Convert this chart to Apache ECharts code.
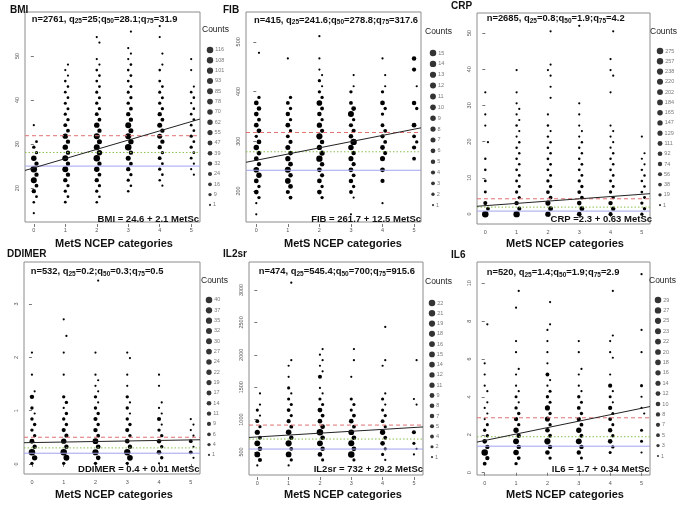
<!DOCTYPE html>
<html><head><meta charset="utf-8">
<script src="https://cdn.jsdelivr.net/npm/echarts@6/dist/echarts.min.js"></script>
<style>html,body{margin:0;padding:0;background:#fff}#c{width:685px;height:513px}</style>
</head><body><div id="c"></div>
<script>
// ---------------- DATA ----------------
const categories = [0, 1, 2, 3, 4, 5];
const xTicks = [0, 1, 2, 3, 4, 5];
const xLabel = 'MetS NCEP categories';

// each series: [bin index, count]; bin value = binStart + index*binStep
// BMI
const bmiBinStart = 14.3, bmiBinStep = 1.25;
const bmiCat0 = [[0,1],[2,2],[3,3],[4,30],[5,17],[6,89],[7,30],[8,116],[9,30],[10,66],[11,8],[12,10],[13,3],[16,1]];
const bmiCat1 = [[2,3],[3,3],[4,8],[5,8],[6,30],[7,30],[8,89],[9,30],[10,89],[11,30],[12,66],[13,30],[14,66],[15,17],[16,17],[17,10],[18,8],[19,5],[20,5],[21,3],[22,3],[23,2],[24,2],[25,1],[26,1],[27,1]];
const bmiCat2 = [[2,2],[3,2],[4,8],[5,8],[6,30],[7,17],[8,66],[9,30],[10,116],[11,66],[12,89],[13,50],[14,89],[15,30],[16,66],[17,17],[18,17],[19,8],[20,8],[21,5],[22,5],[23,3],[24,3],[25,2],[26,2],[27,1],[28,1],[31,1],[32,1]];
const bmiCat3 = [[4,2],[5,2],[6,8],[7,8],[8,30],[9,17],[10,50],[11,30],[12,116],[13,66],[14,89],[15,50],[16,89],[17,30],[18,30],[19,17],[20,10],[21,8],[22,5],[23,5],[24,3],[25,3],[26,2],[27,2],[28,1],[29,1],[30,1],[33,1]];
const bmiCat4 = [[5,1],[6,2],[7,2],[8,8],[9,3],[10,17],[11,8],[12,30],[13,30],[14,50],[15,30],[16,50],[17,17],[18,30],[19,8],[20,8],[21,5],[22,5],[23,3],[24,3],[26,2],[27,1],[29,1],[32,1],[34,1]];
const bmiCat5 = [[7,1],[8,1],[9,1],[10,3],[11,3],[12,8],[13,3],[14,8],[15,3],[16,3],[17,3],[18,2],[19,2],[20,1],[21,2],[22,2],[23,1],[26,1],[28,1]];
const bmiYTicks = [20, 30, 40, 50];
const bmiLegend = [116,108,101,93,85,78,70,62,55,47,39,32,24,16,9,1];
const bmiStats = {n: 2761, q25: 25, q50: 28.1, q75: 31.9};
const bmiFit = {a: 24.6, b: 2.1};

// FIB
const fibBinStart = 153, fibBinStep = 11.2;
const fibCat0 = [[0,1],[2,1],[3,2],[4,6],[5,2],[6,6],[7,9],[8,10],[9,4],[10,6],[11,6],[12,9],[13,6],[14,2],[15,6],[16,6],[17,3],[18,6],[19,5],[20,6],[21,2],[29,1]];
const fibCat1 = [[3,3],[4,4],[5,6],[6,10],[7,5],[8,12],[9,6],[10,8],[11,6],[12,7],[13,4],[14,3],[15,2],[16,6],[17,2],[18,5],[19,2],[20,3],[21,2],[28,1]];
const fibCat2 = [[3,2],[4,6],[5,2],[6,6],[7,4],[8,6],[9,5],[10,14],[11,8],[12,8],[13,5],[14,13],[15,4],[16,8],[17,2],[18,5],[19,3],[20,10],[21,2],[22,2],[23,1],[24,2],[25,1],[26,1],[28,1],[32,1]];
const fibCat3 = [[0,1],[3,1],[4,3],[5,2],[6,5],[7,3],[8,6],[9,4],[10,7],[11,5],[12,9],[13,14],[14,5],[15,4],[16,4],[17,2],[18,12],[19,6],[20,3],[22,2],[23,1],[25,1]];
const fibCat4 = [[2,1],[6,4],[8,6],[10,7],[11,4],[12,6],[13,3],[14,4],[15,3],[16,3],[18,2],[19,2],[20,6],[22,2],[23,1],[25,1],[28,1]];
const fibCat5 = [[10,3],[12,4],[13,2],[14,3],[16,6],[19,2],[20,5],[23,1],[26,4],[28,5]];
const fibYTicks = [200, 300, 400, 500];
const fibLegend = [15,14,13,12,11,10,9,8,7,6,5,4,3,2,1];
const fibStats = {n: 415, q25: 241.6, q50: 278.8, q75: 317.6};
const fibFit = {a: 261.7, b: 12.5};

// CRP
const crpBinStart = -0.05, crpBinStep = 1.53;
const crpCat0 = [[0,275],[1,38],[2,56],[4,10],[6,5],[8,3],[10,2],[13,1],[16,1],[18,1],[22,1]];
const crpCat1 = [[0,257],[1,56],[2,74],[3,19],[4,19],[5,8],[6,8],[7,5],[8,4],[9,3],[10,3],[11,2],[12,2],[13,2],[14,1],[15,1],[16,2],[17,1],[18,1],[19,1],[20,1],[22,1],[26,1]];
const crpCat2 = [[0,147],[1,111],[2,129],[3,38],[4,38],[5,19],[6,19],[7,8],[8,8],[9,5],[10,5],[11,3],[12,3],[13,2],[14,2],[15,1],[16,2],[18,1],[21,1],[23,1],[25,1],[26,1],[27,1],[33,1]];
const crpCat3 = [[0,92],[1,111],[2,92],[3,38],[4,38],[5,19],[6,19],[7,8],[8,5],[9,5],[10,3],[11,2],[12,2],[13,2],[14,1],[15,1],[16,1],[18,1],[20,1],[34,1]];
const crpCat4 = [[0,56],[1,74],[2,74],[3,19],[4,19],[5,8],[6,8],[7,5],[8,3],[9,3],[10,2],[11,2],[12,1],[13,1],[14,1],[15,1],[16,1],[22,1],[25,1],[26,1],[28,1],[33,1]];
const crpCat5 = [[0,19],[1,19],[2,19],[3,8],[4,5],[5,3],[6,3],[7,2],[8,2],[9,1],[10,1],[11,1],[14,1]];
const crpYTicks = [0, 10, 20, 30, 40, 50];
const crpLegend = [275,257,238,220,202,184,165,147,129,111,92,74,56,38,19,1];
const crpStats = {n: 2685, q25: 0.8, q50: 1.9, q75: 4.2};
const crpFit = {a: 2.3, b: 0.63};

// DDIMER
const ddBinStart = 0.01, ddBinStep = 0.104;
const ddCat0 = [[0,4],[1,22],[2,40],[3,11],[4,17],[5,4],[6,4],[7,4],[8,4],[9,1],[10,4],[12,11],[13,1],[16,1],[20,1]];
const ddCat1 = [[0,4],[1,30],[2,40],[3,11],[4,22],[5,9],[6,9],[7,4],[8,4],[9,4],[10,1],[11,4],[12,4],[16,1],[20,1],[23,1],[26,1]];
const ddCat2 = [[0,4],[1,14],[2,35],[3,14],[4,27],[5,6],[6,11],[7,4],[8,9],[9,4],[10,4],[11,1],[12,4],[13,1],[14,1],[15,1],[16,1],[20,1],[33,1]];
const ddCat3 = [[0,4],[1,27],[2,37],[3,11],[4,14],[5,4],[6,9],[7,4],[8,4],[9,1],[10,4],[11,1],[12,4],[14,1],[16,1],[19,1],[20,1]];
const ddCat4 = [[0,1],[1,4],[2,14],[3,4],[4,11],[5,4],[6,4],[7,1],[8,9],[9,1],[10,1],[11,1],[14,1],[16,1]];
const ddCat5 = [[1,1],[2,6],[3,1],[4,6],[5,1],[6,1],[7,1],[8,1]];
const ddYTicks = [0, 1, 2, 3];
const ddLegend = [40,37,35,32,30,27,24,22,19,17,14,11,9,6,4,1];
const ddStats = {n: 532, q25: 0.2, q50: 0.3, q75: 0.5};
const ddFit = {a: 0.4, b: 0.01};

// IL2sr
const il2BinStart = 292, il2BinStep = 85.5;
const il2Cat0 = [[0,1],[1,5],[2,16],[3,7],[4,16],[5,4],[6,11],[7,2],[8,4],[9,1],[10,2],[11,1],[13,1]];
const il2Cat1 = [[0,1],[1,2],[2,15],[3,4],[4,19],[5,7],[6,14],[7,4],[8,5],[9,2],[10,4],[11,2],[12,2],[13,1],[14,2],[16,1],[18,1],[19,1],[33,1]];
const il2Cat2 = [[1,2],[2,8],[3,7],[4,16],[5,8],[6,22],[7,8],[8,8],[9,4],[10,9],[11,2],[12,2],[13,1],[14,1],[16,5],[17,1],[18,1],[19,1],[20,1],[21,1]];
const il2Cat3 = [[1,2],[2,22],[3,8],[4,18],[5,8],[6,15],[7,4],[8,8],[9,4],[10,2],[11,2],[12,2],[16,1],[19,1],[21,1]];
const il2Cat4 = [[1,1],[2,2],[3,2],[4,8],[5,4],[6,12],[7,2],[8,4],[9,2],[10,2],[11,1],[12,2],[13,1],[18,1],[19,1],[25,1]];
const il2Cat5 = [[2,1],[3,1],[4,2],[6,5],[11,1],[12,1],[19,1]];
const il2YTicks = [500, 1000, 1500, 2000, 2500, 3000];
const il2Legend = [22,21,19,18,16,15,14,12,11,9,8,7,5,4,2,1];
const il2Stats = {n: 474, q25: 545.4, q50: 700, q75: 915.6};
const il2Fit = {a: 732, b: 29.2};

// IL6
const il6BinStart = 0.48, il6BinStep = 0.294;
const il6Cat0 = [[0,5],[1,8],[2,29],[3,8],[4,10],[5,3],[6,3],[7,2],[8,1],[9,1],[10,1],[11,1],[13,1],[14,1],[16,1],[18,1],[25,1]];
const il6Cat1 = [[0,3],[1,5],[2,18],[3,8],[4,22],[5,8],[6,16],[7,3],[8,8],[9,3],[10,3],[11,1],[12,2],[13,1],[14,1],[16,1],[17,1],[20,1],[22,1],[28,1],[31,1]];
const il6Cat2 = [[1,3],[2,10],[3,8],[4,25],[5,5],[6,10],[7,3],[8,14],[9,3],[10,14],[11,2],[12,3],[13,2],[14,1],[15,1],[16,5],[18,1],[20,1],[22,1],[24,1],[25,1],[29,1]];
const il6Cat3 = [[1,2],[2,8],[3,8],[4,22],[5,5],[6,16],[7,5],[8,8],[9,3],[10,5],[11,2],[12,3],[13,1],[14,1],[16,1],[17,1],[20,1],[22,1]];
const il6Cat4 = [[2,2],[3,3],[4,10],[5,3],[6,8],[7,2],[8,5],[9,2],[10,7],[11,1],[12,2],[13,1],[14,7],[16,1],[19,1],[20,1],[22,1],[23,1],[31,1]];
const il6Cat5 = [[2,1],[4,2],[6,2],[9,1],[10,1],[12,1],[14,2],[20,1],[24,1],[34,1]];
const il6YTicks = [0, 2, 4, 6, 8, 10];
const il6Legend = [29,27,25,23,22,20,18,16,14,12,10,8,7,5,3,1];
const il6Stats = {n: 520, q25: 1.4, q50: 1.9, q75: 2.9};
const il6Fit = {a: 1.7, b: 0.34};

// ---------------- LAYOUT ----------------
const FONT = '"Liberation Sans", Arial, Helvetica, sans-serif';
const panels = [
  {name:'BMI', eqSep:' = ', bins:[bmiBinStart,bmiBinStep], cats:[bmiCat0,bmiCat1,bmiCat2,bmiCat3,bmiCat4,bmiCat5], yTicks:bmiYTicks, legend:bmiLegend, stats:bmiStats, fit:bmiFit,
   box:[25,12,175,210], x:[-0.28,5.28], y:[12.3,60], title:[10,10.5], annot:[31.7,19], eq:[199,219], counts:[202,30], legX:210, leg:[44.8,165.3], xlab:[114,244]},
  {name:'FIB', eqSep:' = ', bins:[fibBinStart,fibBinStep], cats:[fibCat0,fibCat1,fibCat2,fibCat3,fibCat4,fibCat5], yTicks:fibYTicks, legend:fibLegend, stats:fibStats, fit:fibFit,
   box:[246,12,175,210], x:[-0.326,5.22], y:[137.5,560], title:[223,10.5], annot:[254,20], eq:[421,219], counts:[425,32], legX:433, leg:[47.6,162.9], xlab:[343,244]},
  {name:'CRP', eqSep:' =', bins:[crpBinStart,crpBinStep], cats:[crpCat0,crpCat1,crpCat2,crpCat3,crpCat4,crpCat5], yTicks:crpYTicks, legend:crpLegend, stats:crpStats, fit:crpFit,
   box:[477,13,173,211], x:[-0.265,5.26], y:[-2.76,55.5], title:[451,6.5], annot:[486.7,18.3], eq:[652,219], counts:[650,32], legX:660, leg:[45.9,164.3], xlab:[565,244]},
  {name:'DDIMER', eqSep:' = ', bins:[ddBinStart,ddBinStep], cats:[ddCat0,ddCat1,ddCat2,ddCat3,ddCat4,ddCat5], yTicks:ddYTicks, legend:ddLegend, stats:ddStats, fit:ddFit,
   box:[24,262,176,212], x:[-0.25,5.29], y:[-0.19,3.79], title:[7,254.5], annot:[30.7,271.7], eq:[199.5,469.3], counts:[201,281], legX:209, leg:[294.8,165.3], xlab:[114,495]},
  {name:'IL2sr', eqSep:' = ', bins:[il2BinStart,il2BinStep], cats:[il2Cat0,il2Cat1,il2Cat2,il2Cat3,il2Cat4,il2Cat5], yTicks:il2YTicks, legend:il2Legend, stats:il2Stats, fit:il2Fit,
   box:[249,262,174,213], x:[-0.265,5.29], y:[145,3432], title:[223,254.5], annot:[258.7,271.7], eq:[423,469.3], counts:[425,282], legX:432, leg:[297.9,164.3], xlab:[343,495]},
  {name:'IL6', eqSep:' = ', bins:[il6BinStart,il6BinStep], cats:[il6Cat0,il6Cat1,il6Cat2,il6Cat3,il6Cat4,il6Cat5], yTicks:il6YTicks, legend:il6Legend, stats:il6Stats, fit:il6Fit,
   box:[477,262,173,213], x:[-0.245,5.27], y:[-0.12,11.12], title:[451,255], annot:[486.7,272.3], eq:[649.5,469.3], counts:[649,281], legX:658, leg:[294.8,166.4], xlab:[565,495]}
];

const COL_OFFSET = 0.085;
function dotSize(c, max) { return 2.2 + 4.3 * Math.sqrt((c - 1) / (max - 1)); }

const grids = [], xAxes = [], yAxes = [], series = [], graphics = [];

panels.forEach(p => {
  const gi = grids.length;
  grids.push({left:p.box[0], top:p.box[1], width:p.box[2], height:p.box[3], show:true, borderColor:'#8c8c8c', borderWidth:1, backgroundColor:'transparent'});
  xAxes.push({type:'value', gridIndex:gi, min:p.x[0], max:p.x[1], offset:2,
    axisLine:{show:false}, splitLine:{show:false},
    axisTick:{show:true, length:3, customValues:xTicks, lineStyle:{color:'#777', width:1}},
    axisLabel:{show:true, customValues:xTicks, fontSize:5.5, color:'#555', margin:3, fontFamily:FONT, formatter:v => String(v)}});
  yAxes.push({type:'value', gridIndex:gi, min:p.y[0], max:p.y[1], offset:2,
    axisLine:{show:false}, splitLine:{show:false},
    axisTick:{show:true, length:3, customValues:p.yTicks, lineStyle:{color:'#777', width:1}},
    axisLabel:{show:true, customValues:p.yTicks, rotate:90, fontSize:5.5, color:'#555', margin:3, fontFamily:FONT, formatter:v => String(v)}});

  const pts = [];
  p.cats.forEach((arr, ci) => {
    arr.forEach(([k, c]) => {
      pts.push([categories[ci] + (k % 2) * COL_OFFSET, p.bins[0] + k * p.bins[1], c]);
    });
  });
  const max = p.legend[0];
  series.push({type:'scatter', xAxisIndex:gi, yAxisIndex:gi, data:pts, silent:true, animation:false,
    symbol:'circle', symbolSize:v => dotSize(v[2], max), itemStyle:{color:'#000', opacity:1}, z:3});

  const x0 = p.x[0], x1 = p.x[1];
  const hline = (v, color, type, z) => ({type:'line', xAxisIndex:gi, yAxisIndex:gi, data:[[x0,v],[x1,v]], showSymbol:false, symbol:'none', silent:true, animation:false,
    lineStyle:{color, width:1, type}, z});
  series.push(hline(p.stats.q25, '#a3a3ee', 'solid', 4));
  series.push(hline(p.stats.q50, '#88c050', [1.5, 2], 4));
  series.push(hline(p.stats.q75, '#e07070', [4, 3], 4));
  series.push({type:'line', xAxisIndex:gi, yAxisIndex:gi, data:[[x0, p.fit.a + p.fit.b*x0],[x1, p.fit.a + p.fit.b*x1]],
    showSymbol:false, symbol:'none', silent:true, animation:false, clip:true, lineStyle:{color:'#222', width:1}, z:5});

  // legend (counts)
  const li = grids.length;
  grids.push({left:p.legX - 6, top:p.leg[0], width:12, height:p.leg[1], show:false});
  xAxes.push({type:'value', gridIndex:li, min:-1, max:1, show:false});
  yAxes.push({type:'category', gridIndex:li, data:p.legend.map(String), inverse:true, show:false});
  series.push({type:'scatter', xAxisIndex:li, yAxisIndex:li, data:p.legend.map((c, j) => [0, j, c]), silent:true, animation:false,
    symbol:'circle', symbolSize:v => dotSize(v[2], max), itemStyle:{color:'#000'},
    label:{show:true, position:'right', distance:2, formatter:d => d.value[2], fontSize:5.5, color:'#555', fontFamily:FONT}});

  // texts
  graphics.push({type:'text', x:p.title[0], y:p.title[1], z:10, style:{text:p.name, fontSize:10, fontWeight:'bold', fontFamily:FONT, fill:'#111', align:'left', verticalAlign:'middle'}});
  const s = p.stats;
  graphics.push({type:'text', x:p.annot[0], y:p.annot[1], z:10, style:{
    text:'n=' + s.n + ', q{s|25}=' + s.q25 + ';q{s|50}=' + s.q50 + ';q{s|75}=' + s.q75,
    fontSize:9.4, fontWeight:'bold', fontFamily:FONT, fill:'#111', align:'left', verticalAlign:'middle',
    rich:{s:{fontSize:6.5, fontWeight:'bold', fontFamily:FONT, fill:'#111', padding:[5,0,0,0]}}}});
  graphics.push({type:'text', x:p.eq[0], y:p.eq[1], z:10, style:{text:p.name + p.eqSep + p.fit.a + ' + ' + p.fit.b + ' MetSc',
    fontSize:9.5, fontWeight:'bold', fontFamily:FONT, fill:'#111', align:'right', verticalAlign:'middle'}});
  graphics.push({type:'text', x:p.counts[0], y:p.counts[1], z:10, style:{text:'Counts', fontSize:8.5, fontFamily:FONT, fill:'#222', align:'left', verticalAlign:'middle'}});
  graphics.push({type:'text', x:p.xlab[0], y:p.xlab[1], z:10, style:{text:xLabel, fontSize:11, fontWeight:'bold', fontFamily:FONT, fill:'#111', align:'center', verticalAlign:'middle'}});
});

const chart = echarts.init(document.getElementById('c'), null, {renderer:'canvas'});
chart.setOption({
  animation:false,
  backgroundColor:'#fff',
  grid:grids, xAxis:xAxes, yAxis:yAxes, series:series, graphic:graphics
});
</script></body></html>
